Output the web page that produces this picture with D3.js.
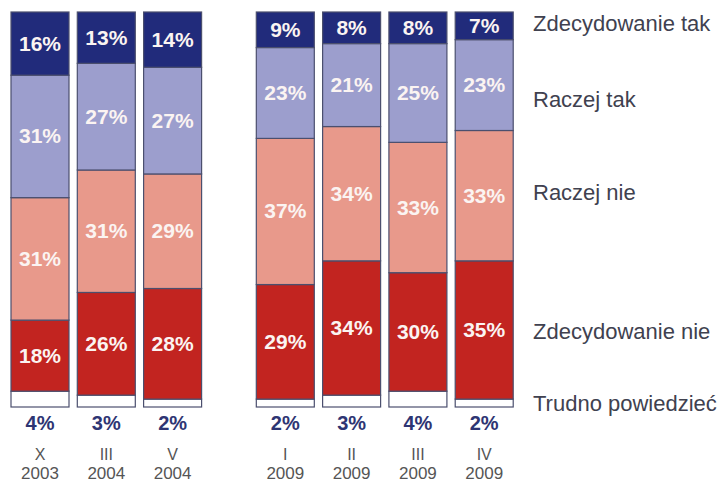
<!DOCTYPE html>
<html lang="pl">
<head>
    <meta charset="UTF-8">
    <title>Zdecydowanie tak / nie</title>
    <script src="https://cdn.jsdelivr.net/npm/d3@7"></script>
    <style>
        body { margin: 0; background: #fff; }
        text { font-family: Arial, "Liberation Sans", sans-serif; }
    </style>
</head>
<body>
<script>
    // dane
    var periods = ["X", "III", "V", "I", "II", "III", "IV"];
    var years = ["2003", "2004", "2004", "2009", "2009", "2009", "2009"];
    var groupOf = [0, 0, 0, 1, 1, 1, 1];

    var zdecydowanieTak = [16, 13, 14, 9, 8, 8, 7];
    var raczejTak = [31, 27, 27, 23, 21, 25, 23];
    var raczejNie = [31, 31, 29, 37, 34, 33, 33];
    var zdecydowanieNie = [18, 26, 28, 29, 34, 30, 35];
    var trudno = [4, 3, 2, 2, 3, 4, 2];

    var seriesNames = ["Trudno powiedzieć", "Zdecydowanie nie", "Raczej nie", "Raczej tak", "Zdecydowanie tak"];
    var seriesValues = [trudno, zdecydowanieNie, raczejNie, raczejTak, zdecydowanieTak];
    var colors = ["#ffffff", "#c22420", "#e8998b", "#9c9ecd", "#212b7b"];

    let width = 722;
    let height = 488;

    var svg = d3.select("body").append("svg")
        .attr("width", width)
        .attr("height", height);

    // tabela do d3.stack
    var table = periods.map(function (p, i) {
        var row = { i: i };
        seriesNames.forEach(function (s, k) { row[s] = seriesValues[k][i]; });
        return row;
    });
    var stacked = d3.stack().keys(seriesNames)(table);

    // pozycja slotu: druga grupa przesunięta o przerwę
    var groupGap = 0.7;
    var x = d3.scaleLinear().domain([0, 1]).range([11, 77.3]);
    var barW = 58;
    function slot(i) { return i + groupOf[i] * groupGap; }

    var y = d3.scaleLinear().domain([0, 100]).range([407, 12]);

    var layers = svg.selectAll("g.layer")
        .data(stacked)
        .enter().append("g")
        .attr("class", "layer")
        .attr("fill", function (d, k) { return colors[k]; });

    layers.selectAll("rect")
        .data(function (d) { return d; })
        .enter().append("rect")
        .attr("x", function (d) { return x(slot(d.data.i)); })
        .attr("y", function (d) { return y(d[1]); })
        .attr("width", barW)
        .attr("height", function (d) { return y(d[0]) - y(d[1]); })
        .attr("stroke", "#4b4f6e")
        .attr("stroke-width", 1.2);

    // etykiety w słupkach (bez "trudno powiedzieć")
    layers.filter(function (d, k) { return k > 0; })
        .selectAll("text")
        .data(function (d) { return d; })
        .enter().append("text")
        .attr("x", function (d) { return x(slot(d.data.i)) + barW / 2; })
        .attr("y", function (d) { return (y(d[0]) + y(d[1])) / 2 + 7; })
        .attr("text-anchor", "middle")
        .attr("fill", "#fbf4f2")
        .attr("font-weight", "bold")
        .attr("font-size", 21)
        .text(function (d) { return (d[1] - d[0]) + "%"; });

    // "trudno powiedzieć" pod słupkami
    svg.selectAll("text.trudno")
        .data(trudno)
        .enter().append("text")
        .attr("class", "trudno")
        .attr("x", function (d, i) { return x(slot(i)) + barW / 2; })
        .attr("y", 430)
        .attr("text-anchor", "middle")
        .attr("fill", "#2e3573")
        .attr("font-weight", "bold")
        .attr("font-size", 20)
        .text(function (d) { return d + "%"; });

    // kategorie: miesiąc i rok
    svg.selectAll("text.period")
        .data(periods)
        .enter().append("text")
        .attr("class", "period")
        .attr("x", function (d, i) { return x(slot(i)) + barW / 2; })
        .attr("y", 460)
        .attr("text-anchor", "middle")
        .attr("fill", "#555555")
        .attr("font-size", 16)
        .text(function (d) { return d; });

    svg.selectAll("text.year")
        .data(years)
        .enter().append("text")
        .attr("class", "year")
        .attr("x", function (d, i) { return x(slot(i)) + barW / 2; })
        .attr("y", 479)
        .attr("text-anchor", "middle")
        .attr("fill", "#555555")
        .attr("font-size", 17)
        .text(function (d) { return d; });

    // legenda
    var legendY = [411, 339, 200, 107, 31];
    svg.selectAll("text.legend")
        .data(seriesNames)
        .enter().append("text")
        .attr("class", "legend")
        .attr("x", 533)
        .attr("y", function (d, k) { return legendY[k]; })
        .attr("fill", "#40414f")
        .attr("font-size", 22)
        .text(function (d) { return d; });
</script>
</body>
</html>
